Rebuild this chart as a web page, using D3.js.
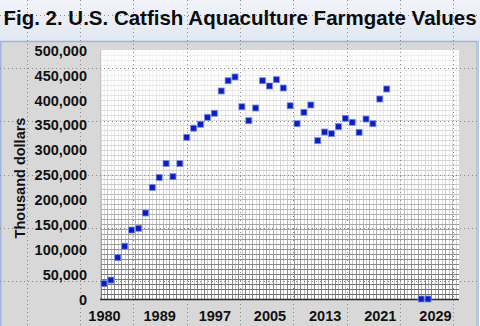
<!DOCTYPE html>
<html>
<head>
<meta charset="utf-8">
<script src="https://cdn.jsdelivr.net/npm/d3@7"></script>
<style>
  html, body { margin: 0; padding: 0; background: #ffffff; }
  svg { display: block; font-family: "Liberation Sans", Arial, sans-serif; }
</style>
</head>
<body>
<svg id="chart" width="480" height="326"></svg>
<script>
// Farmgate values, thousand dollars
const years = [1980, 1981, 1982, 1983, 1984, 1985, 1986, 1987, 1988, 1989,
               1990, 1991, 1992, 1993, 1994, 1995, 1996, 1997, 1998, 1999,
               2000, 2001, 2002, 2003, 2004, 2005, 2006, 2007, 2008, 2009,
               2010, 2011, 2012, 2013, 2014, 2015, 2016, 2017, 2018, 2019,
               2020, 2021, 2026, 2027];
const values = [31000, 38000, 83000, 106000, 138500, 142000, 172700, 224000, 244000, 272000,
                245600, 272000, 324700, 343000, 350800, 364800, 372900, 417700, 438300, 445800,
                386000, 358000, 383500, 438300, 427700, 440400, 423700, 388000, 352000, 374900,
                389600, 317900, 335300, 332000, 346000, 362800, 354800, 334700, 361400, 352000,
                401600, 421700, 0, 0];

const xTickPositions = [1980, 1988, 1996, 2004, 2012, 2020, 2028];
const xTickLabels = ["1980", "1989", "1997", "2005", "2013", "2021", "2029"];
const yTicks = [0, 50000, 100000, 150000, 200000, 250000, 300000, 350000, 400000, 450000, 500000];

const title = "Fig. 2. U.S. Catfish Aquaculture Farmgate Values";
const yTitle = "Thousand dollars";

const W = 480, H = 326;
const plot = { left: 100, right: 459, top: 50, bottom: 299 };

const svg = d3.select("#chart");
const defs = svg.append("defs");

// header band gradient
const hg = defs.append("linearGradient").attr("id", "headGrad")
  .attr("x1", 0).attr("y1", 0).attr("x2", 0).attr("y2", 1);
hg.append("stop").attr("offset", "0%").attr("stop-color", "#f1f3f9");
hg.append("stop").attr("offset", "100%").attr("stop-color", "#e2e7f1");

// grid shading: faint near the top, heavier toward the baseline
const gg = defs.append("linearGradient").attr("id", "gridGrad")
  .attr("gradientUnits", "userSpaceOnUse")
  .attr("x1", 0).attr("y1", plot.top).attr("x2", 0).attr("y2", plot.bottom);
gg.append("stop").attr("offset", "0%").attr("stop-color", "#f4f4f4");
gg.append("stop").attr("offset", "50%").attr("stop-color", "#d2d2d2");
gg.append("stop").attr("offset", "100%").attr("stop-color", "#6e6e6e");

svg.append("rect").attr("x", 0).attr("y", 0).attr("width", W).attr("height", 42)
  .attr("fill", "url(#headGrad)");

// grey chart panel with blue frame
svg.append("rect").attr("x", 0.75).attr("y", 41.5).attr("width", 476.5).attr("height", 290)
  .attr("fill", "#d8d8d8").attr("stroke", "#9fb4df").attr("stroke-width", 1.5);
svg.append("line").attr("x1", 478).attr("x2", 478).attr("y1", 41).attr("y2", H)
  .attr("stroke", "#b7c6e6").attr("stroke-width", 2);

const x = d3.scaleLinear().domain([1979.42, 2031.49]).range([plot.left, plot.right]);
const y = d3.scaleLinear().domain([0, 500000]).range([plot.bottom, plot.top]);

svg.append("rect")
  .attr("x", plot.left).attr("y", plot.top)
  .attr("width", plot.right - plot.left).attr("height", plot.bottom - plot.top)
  .attr("fill", "#ffffff");

// fine grid
const grid = svg.append("g");
const vLines = d3.range(1979.5, 2031.5, 0.5);
grid.selectAll("line.v").data(vLines).join("line")
  .attr("class", "v")
  .attr("x1", d => Math.round(x(d)) + 0.5).attr("x2", d => Math.round(x(d)) + 0.5)
  .attr("y1", plot.top).attr("y2", plot.bottom)
  .attr("stroke", "url(#gridGrad)")
  .attr("stroke-opacity", (d, i) => i % 2 === 0 ? 0.9 : 0.5)
  .attr("stroke-width", 1);

const shade = d3.scaleLinear().domain([plot.top, (plot.top + plot.bottom) / 2, plot.bottom])
  .range(["#f0f0f0", "#d0d0d0", "#6a6a6a"]);
const hLines = d3.range(10000, 500000, 10000);
grid.selectAll("line.h").data(hLines).join("line")
  .attr("class", "h")
  .attr("x1", plot.left).attr("x2", plot.right)
  .attr("y1", d => Math.round(y(d)) + 0.5).attr("y2", d => Math.round(y(d)) + 0.5)
  .attr("stroke", d => shade(y(d)))
  .attr("stroke-width", 1);

// light left edge of the plot
svg.append("line").attr("x1", plot.left + 0.5).attr("x2", plot.left + 0.5)
  .attr("y1", plot.top).attr("y2", plot.bottom).attr("stroke", "#c4c4c4");

// baseline
svg.append("line").attr("x1", plot.left).attr("x2", plot.right)
  .attr("y1", plot.bottom + 0.5).attr("y2", plot.bottom + 0.5)
  .attr("stroke", "#2b2b2b").attr("stroke-width", 1.6);

// dotted page grid spanning the whole figure
const dots = svg.append("g").attr("stroke", "#8a8a8a").attr("stroke-width", 1)
  .attr("stroke-dasharray", "1,3").attr("fill", "none");
d3.range(26.67, W, 53.33).forEach(px => {
  dots.append("line").attr("x1", Math.round(px) + 0.5).attr("x2", Math.round(px) + 0.5)
    .attr("y1", 0).attr("y2", H);
});
d3.range(14.7, H, 53.33).forEach(py => {
  dots.append("line").attr("x1", 0).attr("x2", W)
    .attr("y1", Math.round(py) + 0.5).attr("y2", Math.round(py) + 0.5);
});

// axes (labels only)
const yAxis = d3.axisLeft(y).tickValues(yTicks).tickSize(0).tickPadding(0)
  .tickFormat(d3.format(","));
const gy = svg.append("g").attr("transform", `translate(87,0)`).call(yAxis);
gy.select(".domain").remove();
gy.selectAll("text").attr("font-size", 14.5).attr("font-weight", "bold")
  .attr("fill", "#111").attr("font-family", "Liberation Sans, Arial, sans-serif")
  .attr("dy", "0.36em");

const xAxis = d3.axisBottom(x).tickValues(xTickPositions).tickSize(0).tickPadding(0)
  .tickFormat((d, i) => xTickLabels[i]);
const gx = svg.append("g").attr("transform", `translate(0,311)`).call(xAxis);
gx.select(".domain").remove();
gx.selectAll("text").attr("font-size", 14.5).attr("font-weight", "bold")
  .attr("fill", "#111").attr("font-family", "Liberation Sans, Arial, sans-serif")
  .attr("dy", "0.71em").attr("y", 0);

// axis title
svg.append("text")
  .attr("transform", "translate(25,178) rotate(-90)")
  .attr("text-anchor", "middle")
  .attr("font-size", 14.5).attr("font-weight", "bold").attr("fill", "#111")
  .text(yTitle);

// chart title
svg.append("text")
  .attr("x", 240).attr("y", 25)
  .attr("text-anchor", "middle")
  .attr("font-size", 20.5).attr("font-weight", "bold").attr("fill", "#0d0d0d")
  .text(title);

// data markers
const pts = years.map((yr, i) => ({ yr, v: values[i] }));
svg.append("g").selectAll("rect").data(pts).join("rect")
  .attr("x", d => x(d.yr) - 3).attr("y", d => y(d.v) - 3)
  .attr("width", 6).attr("height", 6)
  .attr("fill", "#0b1fc0")
  .attr("stroke", "#7d8ce0").attr("stroke-width", 0.8);
</script>
</body>
</html>
